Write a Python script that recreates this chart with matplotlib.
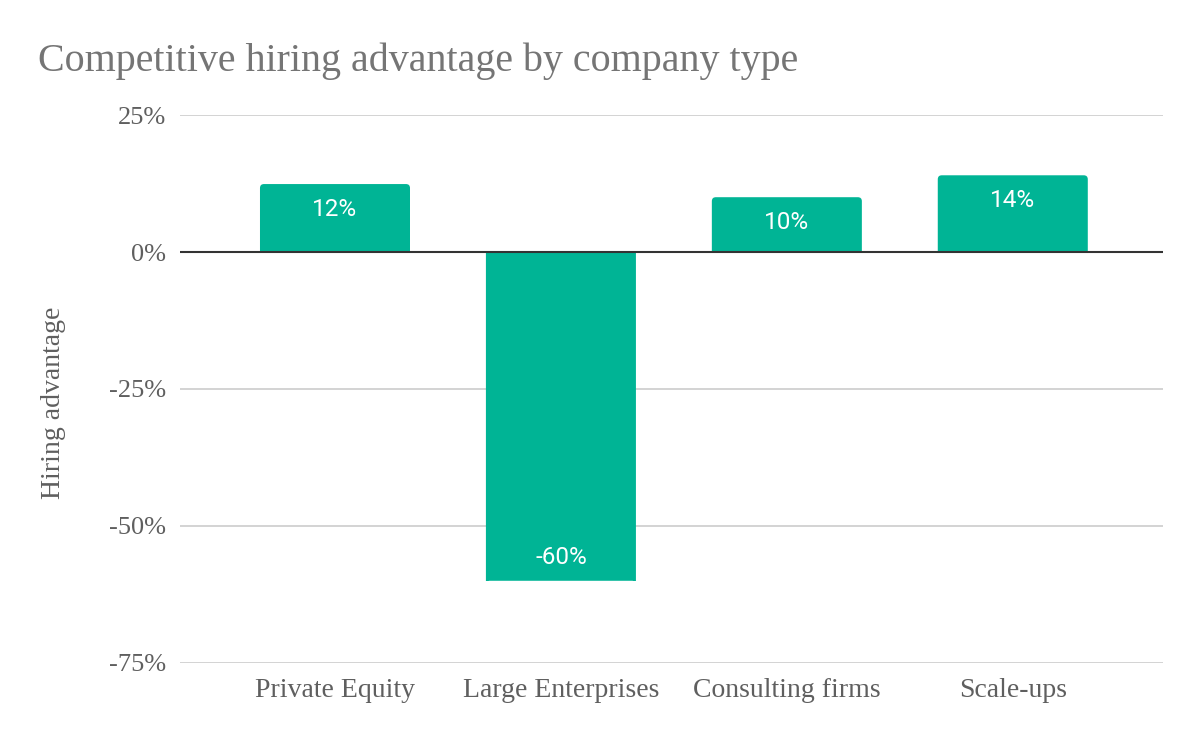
import matplotlib.pyplot as plt
from matplotlib.patches import FancyBboxPatch, Rectangle
from matplotlib.ticker import FuncFormatter

# values
categories = ["Private Equity", "Large Enterprises", "Consulting firms", "Scale-ups"]
advantage = [12.4, -60.0, 10.0, 14.0]
y_ticks = [25, 0, -25, -50, -75]

bar_color = "#00b495"
text_grey = "#5f5f5f"

fig = plt.figure(figsize=(12, 7.42), dpi=100)
ax = fig.add_axes([0.15, 0.1065, 0.819, 0.7385])

ax.set_xlim(-0.686, 3.664)
ax.set_ylim(-75, 25)

x = range(len(categories))
bars = ax.bar(x, advantage, width=0.664, color=bar_color, zorder=2)

# rounded outer corners, square base: draw a rounded box that runs past the
# baseline and clip it back to the original bar
px_per_x = 0.819 * 1200 / (3.664 + 0.686)
px_per_y = 0.7385 * 742 / 100
radius = 4 / px_per_x
for rect in bars:
    bx, by, bw, bh = rect.get_x(), rect.get_y(), rect.get_width(), rect.get_height()
    ext = 5 if bh >= 0 else -5
    box = FancyBboxPatch((bx, by - ext), bw, bh + ext,
                         boxstyle=f"round,pad=0,rounding_size={radius}",
                         mutation_aspect=px_per_x / px_per_y,
                         facecolor=bar_color, edgecolor="none", zorder=2)
    ax.add_patch(box)
    clip = Rectangle((bx - 0.05, by), bw + 0.1, bh, transform=ax.transData)
    box.set_clip_path(clip)
    rect.set_visible(False)

# labels inside the end of each bar
for rect, val in zip(bars, advantage):
    cx = rect.get_x() + rect.get_width() / 2
    offset = -18 if val >= 0 else 17
    ax.annotate(f"{val:.0f}%", (cx, val), xytext=(0, offset), textcoords="offset points",
                ha="center", va="center", color="white", fontsize=17.5,
                family="Roboto", zorder=4)

ax.set_yticks(y_ticks)
ax.yaxis.set_major_formatter(FuncFormatter(lambda v, p: f"{v:.0f}%"))
ax.set_xticks(list(x))
ax.set_xticklabels(categories)

ax.grid(axis="y", color="#cccccc", linewidth=1.2, zorder=0)
ax.set_axisbelow(True)
ax.axhline(0, color="#333333", linewidth=1.5, zorder=3)

for s in ax.spines.values():
    s.set_visible(False)
ax.tick_params(length=0, labelcolor=text_grey)
ax.tick_params(axis="y", pad=10, labelsize=19)
ax.tick_params(axis="x", pad=11, labelsize=20)
for lbl in ax.get_xticklabels() + ax.get_yticklabels():
    lbl.set_family("Liberation Serif")

ax.set_ylabel("Hiring advantage", family="Liberation Serif", fontsize=20,
              color=text_grey)
ax.yaxis.set_label_coords(-0.116, 0.474)

fig.text(0.032, 0.917, "Competitive hiring advantage by company type",
         family="Liberation Serif", fontsize=28.8, color="#757575", va="center")

fig.savefig("out.png", dpi=100, facecolor="white")
